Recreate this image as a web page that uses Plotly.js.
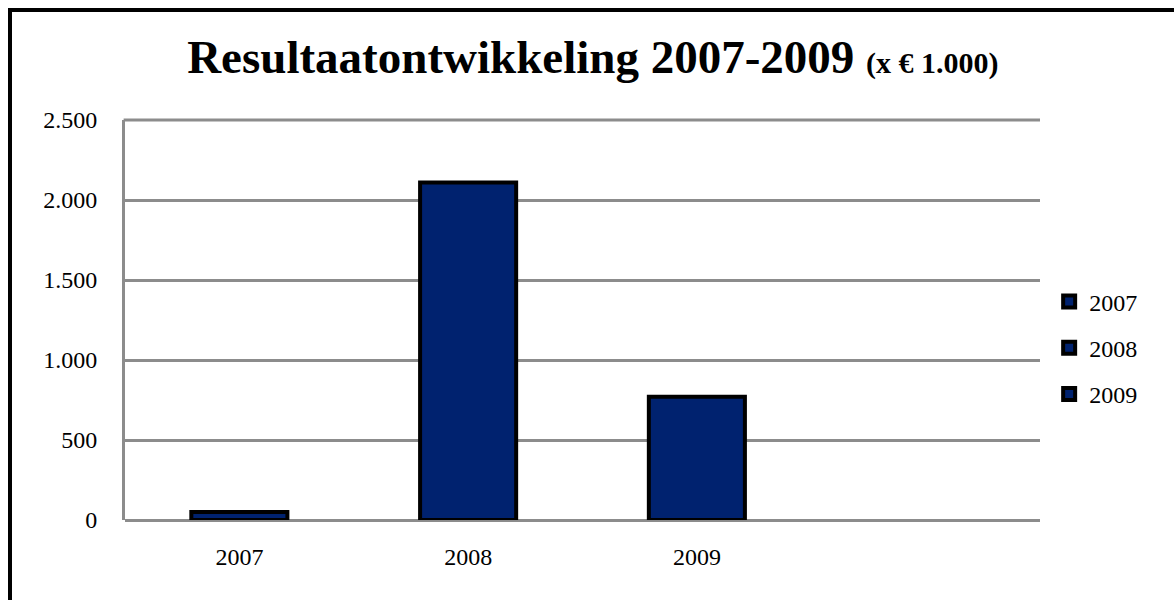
<!DOCTYPE html>
<html>
<head>
<meta charset="utf-8">
<script src="https://cdn.plot.ly/plotly-3.0.1.min.js"></script>
<style>
  html, body { margin: 0; padding: 0; background: #fff; }
  #wrap { position: relative; width: 1174px; height: 600px; overflow: hidden; }
  #frame { position: absolute; left: 8px; top: 8px; width: 1300px; height: 700px;
           border-left: 4px solid #000; border-top: 4px solid #000; pointer-events: none; z-index: 5; }
  #chart { position: absolute; left: 0; top: 0; width: 1174px; height: 600px; }
</style>
</head>
<body>
<div id="wrap">
  <div id="chart"></div>
  <div id="frame"></div>
</div>
<script>
const categories = ['2007', '2008', '2009'];
const values = [50, 2110, 770];
const yTicks = [0, 500, 1000, 1500, 2000, 2500];
const yMax = 2500;

const fontFam = '"Liberation Serif", "Times New Roman", serif';
const barColor = '#00226F';
const gridColor = '#8c8c8c';

const traces = categories.map((c, i) => ({
  type: 'bar',
  name: c,
  x: [c],
  y: [values[i]],
  width: 0.42,
  legendgroup: 'g' + i,
  marker: { color: barColor, line: { color: '#000', width: 4 } },
  hoverinfo: 'x+y'
}));

const layout = {
  width: 1174,
  height: 600,
  margin: { l: 125, r: 134, t: 120, b: 80 },
  paper_bgcolor: '#fff',
  plot_bgcolor: '#fff',
  separators: ',.',
  barmode: 'overlay',
  font: { family: fontFam, color: '#000', size: 24 },
  title: {
    text: '<b>Resultaatontwikkeling 2007-2009 <span style="font-size:30px">(x € 1.000)</span></b>',
    font: { family: fontFam, size: 47, color: '#000' },
    x: 0.505, xanchor: 'center',
    y: 0.905, yanchor: 'middle', yref: 'container'
  },
  xaxis: {
    type: 'category',
    categoryorder: 'array',
    categoryarray: categories,
    range: [-0.5, 3.5],
    showgrid: false,
    zeroline: false,
    showline: false,
    ticks: '',
    ticklabelstandoff: 20,
    tickfont: { family: fontFam, size: 24, color: '#000' },
    fixedrange: true
  },
  yaxis: {
    range: [0, yMax],
    tickvals: yTicks,
    tickformat: ',d',
    showgrid: true,
    gridcolor: gridColor,
    gridwidth: 3,
    zeroline: true,
    zerolinecolor: gridColor,
    zerolinewidth: 3,
    showline: true,
    linecolor: gridColor,
    linewidth: 3,
    ticks: '',
    ticklabelstandoff: 20,
    tickfont: { family: fontFam, size: 24, color: '#000' },
    fixedrange: true
  },
  shapes: [{
    type: 'line', xref: 'paper', yref: 'paper',
    x0: -0.0015, x1: 1, y0: 1, y1: 1,
    line: { color: gridColor, width: 3 },
    layer: 'below'
  }],
  showlegend: true,
  legend: {
    x: 1.01, xanchor: 'left',
    y: 0.43, yanchor: 'middle',
    traceorder: 'grouped',
    tracegroupgap: 12,
    font: { family: fontFam, size: 24, color: '#000' },
    bgcolor: 'rgba(0,0,0,0)',
    itemwidth: 30
  }
};

Plotly.newPlot('chart', traces, layout, { displayModeBar: false, staticPlot: true });
</script>
</body>
</html>
